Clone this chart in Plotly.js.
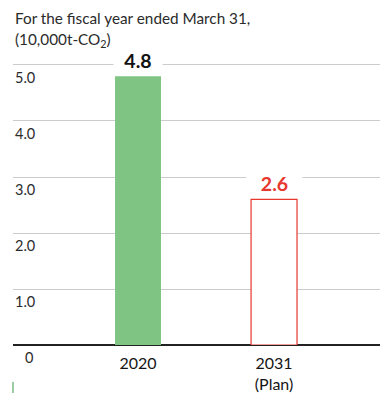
<!DOCTYPE html>
<html><head><meta charset="utf-8">
<script src="https://cdn.plot.ly/plotly-3.0.1.min.js"></script>
<style>html,body{margin:0;padding:0;background:#fff}</style>
</head><body><div id="c" style="width:380px;height:394px"></div>
<script>
const categories = ["2020", "2031"];
const tickLabels = ["2020", "2031<br>(Plan)"];
const values = [4.8, 2.6];
const valueLabels = ["4.8", "2.6"];
const yTicks = [0, 1, 2, 3, 4, 5];
const yTickLabels = ["0", "1.0", "2.0", "3.0", "4.0", "5.0"];
const titleLines = ["For the fiscal year ended March 31,", "(10,000t-CO<sub>2</sub>)"];

const green = "#80c483", red = "#e8372e", txt = "#2b2b2b";
const font = "Lato, Open Sans, sans-serif";

const trace = {
  type: "bar", x: categories, y: values, width: 0.338,
  marker: {color: [green, "#ffffff"], line: {color: [green, red], width: [0, 1.2]}},
  hoverinfo: "none"
};

const ann = [];
titleLines.forEach((t, i) => ann.push({xref: "paper", yref: "paper", x: 0, xanchor: "left",
  y: 1, yanchor: "middle", yshift: 27 - i * 22, text: t, showarrow: false,
  font: {family: font, size: 15.3, color: txt}}));
yTicks.forEach((v, i) => ann.push({xref: "paper", yref: "y", x: v === 0 ? 0.043 : 0, xanchor: v === 0 ? "center" : "left",
  y: v, yanchor: "middle", yshift: -12.5, text: yTickLabels[i], showarrow: false,
  font: {family: font, size: 14.5, color: txt}}));
values.forEach((v, i) => ann.push({xref: "x", yref: "y", x: i, y: v, yanchor: "middle",
  yshift: 16, text: "<b>" + valueLabels[i] + "</b>", showarrow: false, bgcolor: "#ffffff",
  width: i === 0 ? 46 : 53, height: 22,
  font: {family: font, size: 19.5, color: i === 0 ? "#111111" : red}}));

const layout = {
  width: 380, height: 394,
  margin: {l: 13, r: 0, t: 45, b: 49},
  paper_bgcolor: "#fff", plot_bgcolor: "#fff",
  showlegend: false,
  xaxis: {type: "category", range: [-0.919, 1.779], tickvals: categories, ticktext: tickLabels,
    showgrid: false, zeroline: false, showline: false, ticks: "", ticklabelstandoff: 7,
    tickfont: {family: font, size: 16, color: "#151515"}, fixedrange: true},
  yaxis: {range: [0, 5.357], tickvals: yTicks, showticklabels: false, showgrid: true,
    gridcolor: "#cccccc", gridwidth: 1, zeroline: true, zerolinecolor: "#222", zerolinewidth: 1.5,
    ticks: "", fixedrange: true},
  annotations: ann,
  shapes: [{type: "line", xref: "paper", yref: "paper", x0: 0, x1: 0, y0: -0.123, y1: -0.16,
    line: {color: "#3a9a4a", width: 1}}]
};
Plotly.newPlot("c", [trace], layout, {displayModeBar: false, staticPlot: true});
</script></body></html>
